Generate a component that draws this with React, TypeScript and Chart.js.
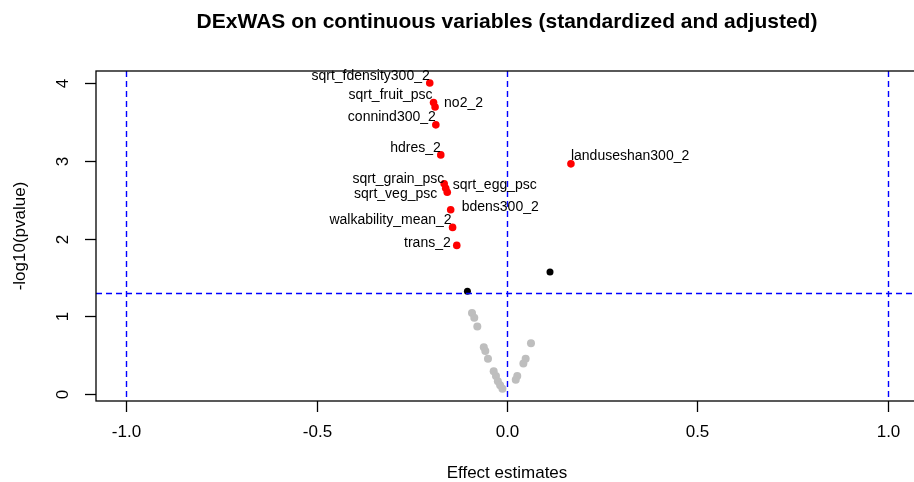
import React, { useEffect, useRef } from "react";
import { Chart, registerables } from "chart.js";

Chart.register(...registerables);

// ---- data ----
const sigNames = [
  "sqrt_fdensity300_2",
  "sqrt_fruit_psc",
  "no2_2",
  "connind300_2",
  "hdres_2",
  "sqrt_grain_psc",
  "sqrt_egg_psc",
  "sqrt_veg_psc",
  "bdens300_2",
  "walkability_mean_2",
  "trans_2",
  "landuseshan300_2",
];
const sigEffect = [-0.203, -0.193, -0.189, -0.187, -0.174, -0.165, -0.161, -0.157, -0.148, -0.143, -0.132, 0.168];
const sigLogP = [4.004, 3.753, 3.695, 3.464, 3.077, 2.705, 2.647, 2.596, 2.37, 2.143, 1.911, 2.962];

const nomEffect = [0.113, -0.104];
const nomLogP = [1.569, 1.32];

const nsEffect = [-0.092, -0.086, -0.078, -0.061, -0.057, -0.05, -0.035, -0.029, -0.024, -0.018, -0.012, 0.063, 0.049, 0.043, 0.027, 0.023];
const nsLogP = [1.04, 0.98, 0.866, 0.6, 0.55, 0.45, 0.29, 0.23, 0.16, 0.11, 0.064, 0.65, 0.45, 0.39, 0.23, 0.18];

const xTicks = [-1, -0.5, 0, 0.5, 1];
const xTickLabels = ["-1.0", "-0.5", "0.0", "0.5", "1.0"];
const yTicks = [0, 1, 2, 3, 4];
const yTickLabels = ["0", "1", "2", "3", "4"];
const vLines = [-1, 0, 1];
const hLines = [1.301];

const titleText = "DExWAS on continuous variables (standardized and adjusted)";
const xTitle = "Effect estimates";
const yTitle = "-log10(pvalue)";

// label placement (styling): text alignment and pixel offset from point
const labelPlace: { align: "left" | "right"; dx: number; dy: number }[] = [
  { align: "right", dx: 0, dy: -6.5 },
  { align: "right", dx: -1, dy: -7 },
  { align: "left", dx: 9, dy: -4 },
  { align: "right", dx: 0, dy: -8 },
  { align: "right", dx: 0, dy: -7 },
  { align: "right", dx: 0, dy: -5 },
  { align: "left", dx: 7, dy: -3 },
  { align: "right", dx: -10, dy: 2 },
  { align: "left", dx: 11, dy: -3 },
  { align: "right", dx: -1, dy: -7 },
  { align: "right", dx: -6, dy: -2 },
  { align: "left", dx: 0, dy: -8 },
];

const FONT = "'Liberation Sans', Arial, Helvetica, sans-serif";

const rPlotPlugin = {
  id: "rPlot",
  afterDatasetsDraw(chart: any) {
    const ctx = chart.ctx as CanvasRenderingContext2D;
    const { left, right, top, bottom } = chart.chartArea;
    const xs = chart.scales.x;
    const ys = chart.scales.y;
    ctx.save();
    // reference lines
    ctx.strokeStyle = "#0000FF";
    ctx.lineWidth = 1.4;
    ctx.setLineDash([6, 4]);
    vLines.forEach((v) => {
      const px = Math.round(xs.getPixelForValue(v)) + 0.5;
      ctx.beginPath();
      ctx.moveTo(px, top);
      ctx.lineTo(px, bottom);
      ctx.stroke();
    });
    hLines.forEach((v) => {
      const py = Math.round(ys.getPixelForValue(v)) + 0.5;
      ctx.beginPath();
      ctx.moveTo(left, py);
      ctx.lineTo(right, py);
      ctx.stroke();
    });
    ctx.setLineDash([]);

    // box
    ctx.strokeStyle = "#000";
    ctx.lineWidth = 1.3;
    ctx.strokeRect(left, top, right - left, bottom - top);

    // x ticks
    ctx.fillStyle = "#000";
    ctx.font = `17px ${FONT}`;
    ctx.textAlign = "center";
    ctx.textBaseline = "middle";
    xTicks.forEach((v, i) => {
      const px = Math.round(xs.getPixelForValue(v)) + 0.5;
      ctx.beginPath();
      ctx.moveTo(px, bottom);
      ctx.lineTo(px, bottom + 11);
      ctx.stroke();
      ctx.fillText(xTickLabels[i], px, bottom + 31);
    });
    // y ticks
    yTicks.forEach((v, i) => {
      const py = Math.round(ys.getPixelForValue(v)) + 0.5;
      ctx.beginPath();
      ctx.moveTo(left, py);
      ctx.lineTo(left - 11, py);
      ctx.stroke();
      ctx.save();
      ctx.translate(left - 33, py);
      ctx.rotate(-Math.PI / 2);
      ctx.fillText(yTickLabels[i], 0, 0);
      ctx.restore();
    });
    // axis titles
    ctx.fillText(xTitle, (left + right) / 2, bottom + 72);
    ctx.save();
    ctx.translate(20, (top + bottom) / 2);
    ctx.rotate(-Math.PI / 2);
    ctx.fillText(yTitle, 0, 0);
    ctx.restore();

    // point labels
    ctx.font = `14px ${FONT}`;
    sigNames.forEach((name, i) => {
      const p = labelPlace[i];
      const px = xs.getPixelForValue(sigEffect[i]);
      const py = ys.getPixelForValue(sigLogP[i]);
      ctx.textAlign = p.align;
      ctx.fillText(name, px + p.dx, py + p.dy);
    });
    ctx.restore();
  },
};

export default function App() {
  const ref = useRef<HTMLCanvasElement | null>(null);
  useEffect(() => {
    if (!ref.current) return;
    const chart = new Chart(ref.current, {
      type: "scatter",
      data: {
        datasets: [
          {
            label: "ns",
            data: nsEffect.map((x, i) => ({ x, y: nsLogP[i] })),
            backgroundColor: "#BEBEBE",
            borderWidth: 0,
            pointRadius: 4,
          },
          {
            label: "nominal",
            data: nomEffect.map((x, i) => ({ x, y: nomLogP[i] })),
            backgroundColor: "#000000",
            borderWidth: 0,
            pointRadius: 3.5,
          },
          {
            label: "significant",
            data: sigEffect.map((x, i) => ({ x, y: sigLogP[i] })),
            backgroundColor: "#FF0000",
            borderWidth: 0,
            pointRadius: 3.8,
          },
        ],
      },
      options: {
        responsive: false,
        animation: false,
        events: [],
        layout: { padding: { left: 96, right: 2, top: 0, bottom: 81 } },
        scales: {
          x: { type: "linear", min: -1.08, max: 1.08, display: false },
          y: { type: "linear", min: -0.0935, max: 4.158, display: false },
        },
        plugins: {
          legend: { display: false },
          tooltip: { enabled: false },
          title: {
            display: true,
            text: titleText,
            fullSize: false,
            color: "#000",
            font: { family: FONT, size: 21, weight: "bold", lineHeight: 1.2 },
            padding: { top: 10, bottom: 35.8 },
          },
        },
      },
      plugins: [rPlotPlugin],
    });
    return () => chart.destroy();
  }, []);
  return (
    <div style={{ position: "fixed", left: 0, top: 0, width: 914, height: 482, overflow: "hidden", background: "#fff" }}>
      <canvas ref={ref} width={922} height={482} style={{ display: "block" }} />
    </div>
  );
}
